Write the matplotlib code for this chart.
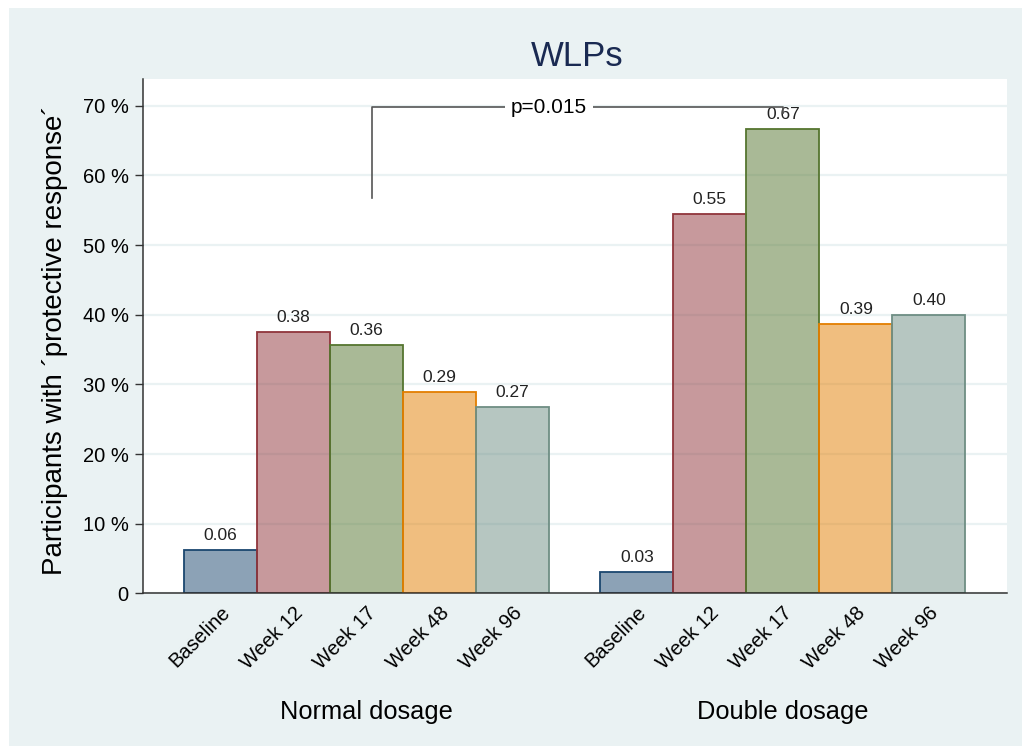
import numpy as np
import matplotlib
matplotlib.use('Agg')
import matplotlib.pyplot as plt
from matplotlib.patches import Rectangle
from matplotlib.ticker import FuncFormatter

plt.rcParams['font.family'] = ['Liberation Sans', 'DejaVu Sans']

# data
timepoints = ['Baseline', 'Week 12', 'Week 17', 'Week 48', 'Week 96']
groups = ['Normal dosage', 'Double dosage']
normal = [0.0625, 0.375, 0.357, 0.289, 0.267]
double = [0.030, 0.545, 0.667, 0.387, 0.400]
p_text = 'p=0.015'

colors = ['#1a476f', '#90353b', '#55752f', '#e37e00', '#6e8e84']
bg = '#eaf2f3'

fig = plt.figure(figsize=(10.22, 7.46), dpi=100)
fig.patch.set_facecolor('white')
# light outer panel (white strip left/top)
fig.patches.append(Rectangle((9 / 1022, 0), 1, 1 - 8 / 746, transform=fig.transFigure,
                             facecolor=bg, edgecolor='none', zorder=-10))

ax = fig.add_axes([142.7 / 1022, 1 - 593.3 / 746, (1007 - 142.7) / 1022, (593.3 - 79.3) / 746])
ax.set_facecolor('white')

# bar positions
offset = 5.70
pos1 = np.arange(len(timepoints))
pos2 = pos1 + offset

ax.set_axisbelow(True)
ax.yaxis.grid(True, color=bg, linewidth=1.6)

for vals, pos in [(normal, pos1), (double, pos2)]:
    for i, (v, x) in enumerate(zip(vals, pos)):
        ax.bar(x, v, width=1.0, color=colors[i], alpha=0.5, edgecolor='none')
        ax.bar(x, v, width=1.0, facecolor='none', edgecolor=colors[i], linewidth=1.3)
        ax.annotate('%.2f' % v, (x, v), xytext=(0, 5), textcoords='offset points',
                    ha='center', va='bottom', fontsize=12.5, color='#222222')

ax.set_xlim(-1.066, 10.77)
ax.set_ylim(0, 0.738)
ax.set_yticks(np.arange(0, 0.71, 0.1))
ax.yaxis.set_major_formatter(FuncFormatter(lambda y, _: '0' if y == 0 else '%d %%' % round(y * 100)))
ax.tick_params(axis='y', length=6, width=1, color='#333333', labelsize=14.5, pad=4)

ax.set_xticks(np.concatenate([pos1, pos2]))
ax.set_xticklabels(timepoints * 2, rotation=45, ha='right', va='top',
                   rotation_mode='anchor', fontsize=14.5)
ax.tick_params(axis='x', length=0, pad=7)

for s in ['top', 'right']:
    ax.spines[s].set_visible(False)
for s in ['left', 'bottom']:
    ax.spines[s].set_color('#333333')
    ax.spines[s].set_linewidth(1.1)

# significance bracket between the two Week 17 bars
bx1 = pos1[2] + 0.07
bx2 = pos2[2]
by = 0.698
ax.plot([bx1, bx1, bx2, bx2], [0.567, by, by, 0.690], color='#555555', lw=1.2, zorder=3)
ax.text(4.5, by, p_text, ha='center', va='center', fontsize=15, zorder=4,
        bbox=dict(facecolor='white', edgecolor='none', pad=4))

# group labels
for g, pos in zip(groups, [pos1, pos2]):
    ax.text(pos.mean(), -0.231, g, transform=ax.get_xaxis_transform(),
            ha='center', va='center', fontsize=18.3)

fig.text(577 / 1022, 1 - 57 / 746, 'WLPs', ha='center', va='center',
         fontsize=25, color='#1a2a52')
fig.text(55 / 1022, 1 - 340 / 746, 'Participants with \u00b4protective response\u00b4',
         rotation=90, ha='center', va='center', fontsize=20)

fig.savefig('out.png', dpi=100, facecolor=fig.get_facecolor())
